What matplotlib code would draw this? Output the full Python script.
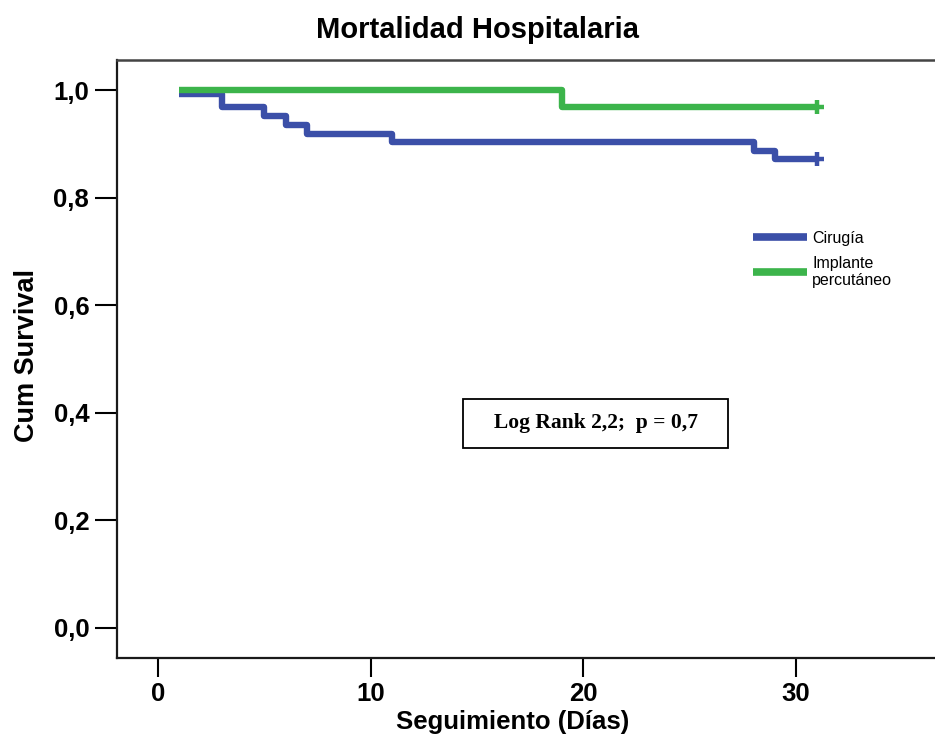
import matplotlib
matplotlib.use("Agg")
import matplotlib.pyplot as plt
from matplotlib.patches import Rectangle

# Kaplan-Meier steps
CIRUGIA_DAYS = [1, 3, 5, 6, 7, 11, 28, 29, 31]
CIRUGIA_SURV = [0.992, 0.968, 0.952, 0.935, 0.919, 0.903, 0.887, 0.871, 0.871]
IMPLANTE_DAYS = [1, 19, 31]
IMPLANTE_SURV = [1.0, 0.969, 0.969]

X_TICKS = [0, 10, 20, 30]
Y_TICKS = [0.0, 0.2, 0.4, 0.6, 0.8, 1.0]
Y_TICK_LABELS = ["0,0", "0,2", "0,4", "0,6", "0,8", "1,0"]

BLUE = "#3B4FA8"
GREEN = "#3CB44B"
SANS = ["Liberation Sans", "DejaVu Sans"]
SERIF = ["Liberation Serif", "DejaVu Serif"]

plt.rcParams["font.family"] = SANS

fig = plt.figure(figsize=(9.35, 7.44), dpi=100)
ax = fig.add_axes([117 / 935, 1 - 658 / 744, 1 - 117 / 935, 598 / 744])

ax.step(CIRUGIA_DAYS, CIRUGIA_SURV, where="post", color=BLUE, lw=4.6,
        solid_capstyle="butt", zorder=3, label="Cirugía")
ax.step(IMPLANTE_DAYS, IMPLANTE_SURV, where="post", color=GREEN, lw=4.6,
        solid_capstyle="butt", zorder=4, label="Implante\npercutáneo")
# censored marks at the last follow-up
ax.plot(CIRUGIA_DAYS[-1], CIRUGIA_SURV[-1], marker="+", ms=10, mew=3.2,
        color=BLUE, zorder=5)
ax.plot(IMPLANTE_DAYS[-1], IMPLANTE_SURV[-1], marker="+", ms=10, mew=3.2,
        color=GREEN, zorder=5)

ax.set_xlim(-1.93, 36.53)
ax.set_ylim(-0.0558, 1.0558)
ax.set_xticks(X_TICKS)
ax.set_yticks(Y_TICKS)
ax.set_yticklabels(Y_TICK_LABELS)
ax.tick_params(axis="y", length=16, width=1.5, pad=4, labelsize=18.5)
ax.tick_params(axis="x", length=14, width=1.5, pad=3, labelsize=18.5)
for lab in ax.get_xticklabels() + ax.get_yticklabels():
    lab.set_fontweight("bold")

ax.spines["right"].set_visible(False)
for side in ["left", "bottom"]:
    ax.spines[side].set_linewidth(1.6)
    ax.spines[side].set_color("#1a1a1a")
ax.spines["top"].set_linewidth(1.8)
ax.spines["top"].set_color("#444444")

leg = ax.legend(loc="upper left", bbox_to_anchor=(745 / 935, 1 - 223 / 744),
                bbox_transform=fig.transFigure, frameon=False, fontsize=11.5,
                handlelength=3.4, handletextpad=0.3, borderpad=0,
                labelspacing=0.6)
for line in leg.get_lines():
    line.set_linewidth(5.5)

# Log rank annotation box
ax.add_patch(Rectangle((14.34, 0.335), 12.46, 0.091, fill=False, lw=1.3,
                       edgecolor="black", zorder=6))
ax.text(20.57, 0.3805, "Log Rank 2,2;  p = 0,7", ha="center", va="center",
        family=SERIF, fontweight="bold", fontsize=15.5, zorder=7)

fig.text(478 / 935, 1 - 30 / 744, "Mortalidad Hospitalaria", ha="center",
         va="center", fontsize=21, fontweight="bold")
fig.text(513 / 935, 1 - 722 / 744, "Seguimiento (Días)", ha="center",
         va="center", fontsize=18.5, fontweight="bold")
fig.text(27 / 935, 1 - 355 / 744, "Cum Survival", ha="center", va="center",
         rotation=90, fontsize=19.5, fontweight="bold")

fig.savefig("out.png", dpi=100)
